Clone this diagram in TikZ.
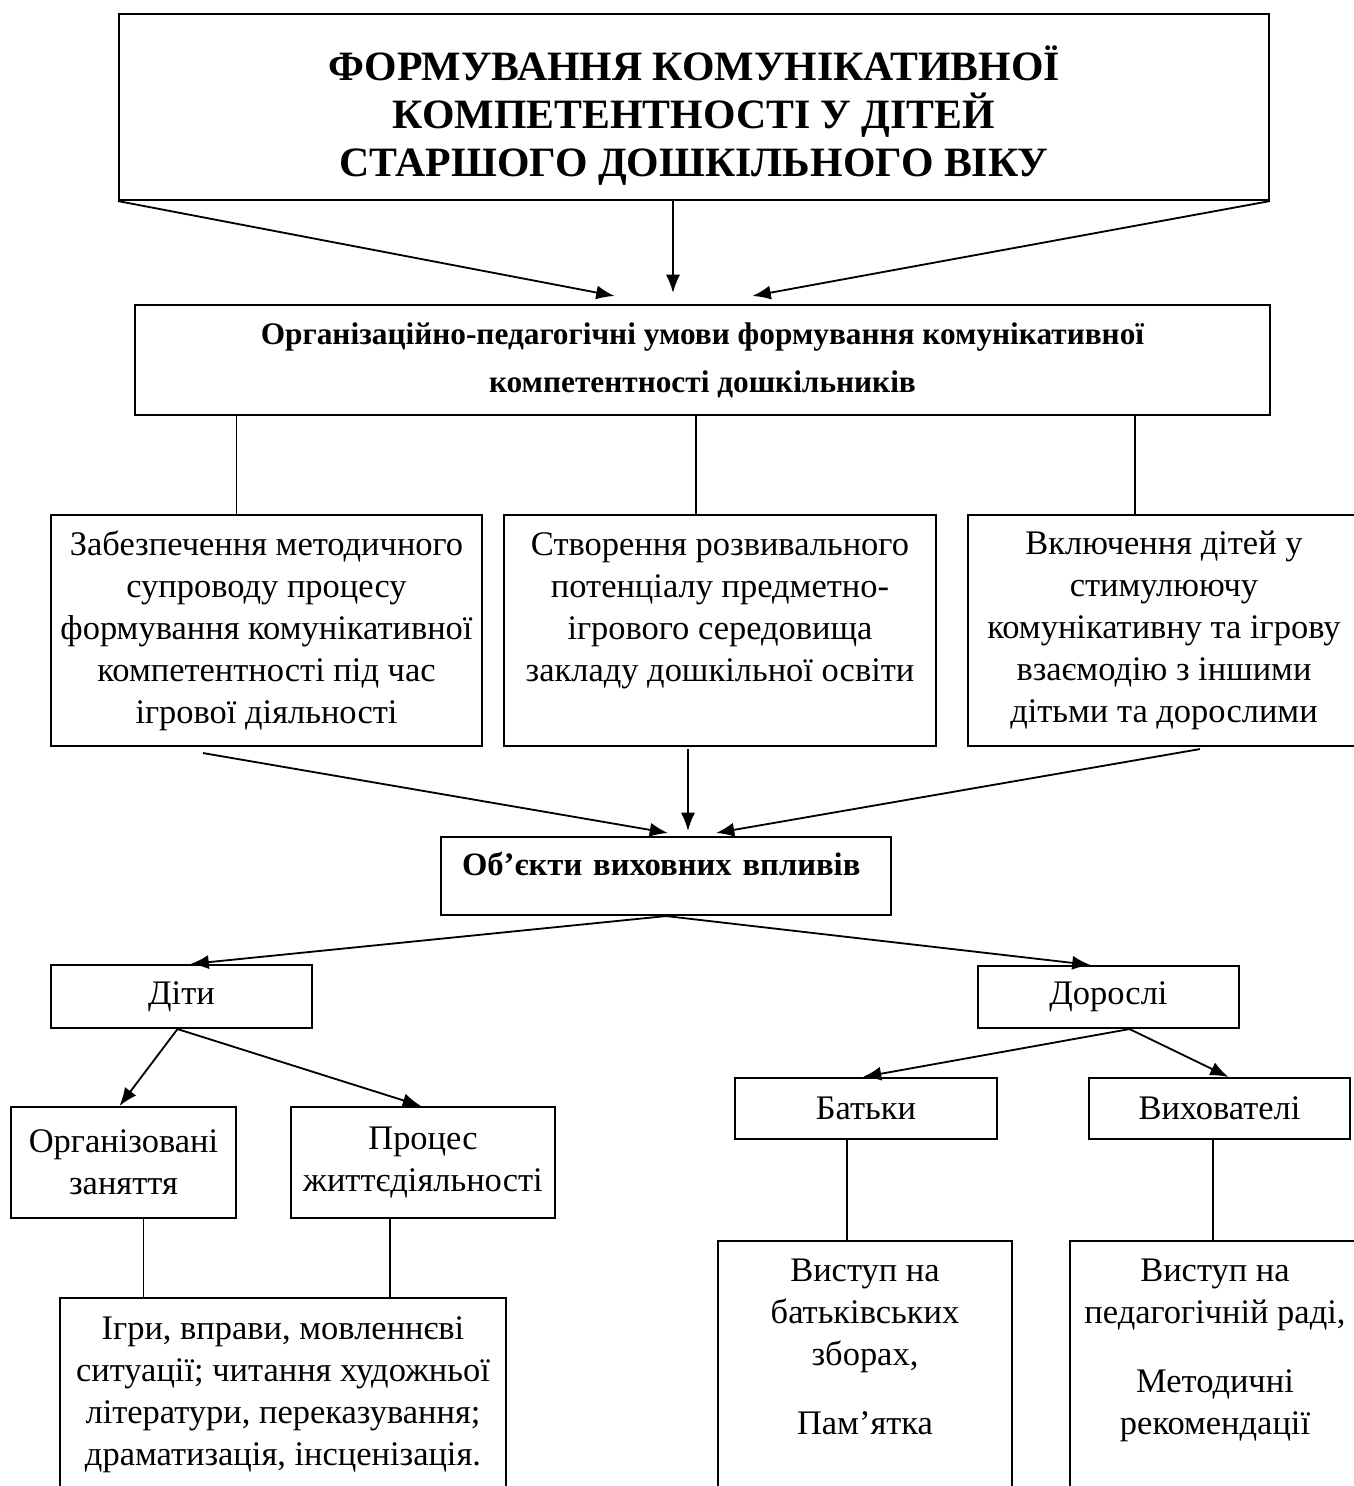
\documentclass[tikz,border=0pt]{standalone}
\usepackage{fontspec}
\setmainfont{Liberation Serif}
\usepackage{tikz}
\usetikzlibrary{arrows.meta,calc}

\newcommand{\pxu}{0.383pt}

\begin{document}
\begin{tikzpicture}[
  x=0.383pt, y=-0.383pt,
  >={Latex[length=7pt,width=5.4pt]},
  line width=.7pt,
  blockbox/.style={draw,line width=.8pt,inner sep=0pt,align=center,
                   font=\fontsize{13.2}{16.1}\selectfont},
  headbox/.style={blockbox,font=\bfseries\fontsize{16}{18.4}\selectfont},
  topbox/.style={blockbox,anchor=north,inner ysep=7pt,text depth=40pt}
]
 \useasboundingbox (0,0) rectangle (1354,1486);
 \clip (0,0) rectangle (1354,1486);

 % main title and conditions
 \node[headbox,minimum width=1150*\pxu,minimum height=186*\pxu,
       text height=53.6pt,text depth=0pt] (title) at (694,107)
   {ФОРМУВАННЯ КОМУНІКАТИВНОЇ\\КОМПЕТЕНТНОСТІ У ДІТЕЙ\\СТАРШОГО ДОШКІЛЬНОГО ВІКУ};
 \node[blockbox,font=\bfseries\fontsize{12}{18.4}\selectfont,
       minimum width=1135*\pxu,minimum height=110*\pxu] (cond) at (702.5,360)
   {Організаційно-педагогічні умови формування комунікативної\\компетентності дошкільників};

 \node[blockbox,minimum width=431*\pxu,minimum height=231*\pxu] (meth) at (266.5,630.5)
   {Забезпечення методичного\\супроводу процесу\\формування комунікативної\\компетентності під час\\ігрової діяльності};
 \node[blockbox,minimum width=432*\pxu,minimum height=231*\pxu,
       text height=42pt,text depth=2.6pt] (envir) at (720,630.5)
   {Створення розвивального\\потенціалу предметно-\\ігрового середовища\\закладу дошкільної освіти};
 \node[blockbox,minimum width=392*\pxu,minimum height=231*\pxu] (inter) at (1164,630.5)
   {Включення дітей у\\стимулюючу\\комунікативну та ігрову\\взаємодію з іншими\\дітьми та дорослими};

 \node[blockbox,font=\bfseries\fontsize{12.5}{16.1}\selectfont,align=left,
       inner xsep=21*\pxu,text width=408*\pxu,minimum height=78*\pxu,
       text height=10pt,text depth=10.7pt] (obj) at (666,876)
   {Об’єкти виховних впливів};

 \node[blockbox,minimum width=261*\pxu,minimum height=63*\pxu] (kids) at (181.5,996.5) {Діти};
 \node[blockbox,minimum width=261*\pxu,minimum height=62*\pxu] (adults) at (1108.5,997) {Дорослі};

 \node[blockbox,minimum width=225*\pxu,minimum height=111*\pxu] (org) at (123.5,1162.5)
   {Організовані\\заняття};
 \node[blockbox,minimum width=264*\pxu,minimum height=111*\pxu] (proc) at (423,1162.5)
   {Процес\\життєдіяльності};
 \node[topbox,minimum width=446*\pxu] (act) at (283,1297)
   {Ігри, вправи, мовленнєві\\ситуації; читання художньої\\літератури, переказування;\\драматизація, інсценізація.};

 \node[blockbox,minimum width=262*\pxu,minimum height=61*\pxu] (par) at (866,1108.5) {Батьки};
 \node[blockbox,minimum width=261*\pxu,minimum height=61*\pxu] (edu) at (1219.5,1108.5) {Вихователі};
 \node[topbox,minimum width=294*\pxu] (meetP) at (865,1240)
   {Виступ на\\батьківських\\зборах,\\[10.3pt]Пам’ятка};
 \node[topbox,minimum width=290*\pxu] (meetE) at (1215,1240)
   {Виступ на\\педагогічній раді,\\[10.3pt]Методичні\\рекомендації};

 % arrows from the title
 \draw[->] (title.south west) -- ($(cond.north)+(-88,-8)$);
 \draw[->] ($(title.south)+(-21,0)$) -- ($(cond.north)+(-29.5,-11)$);
 \draw[->] (title.south east) -- ($(cond.north)+(50,-8)$);

 % plain lines down to the three conditions
 \coordinate (cm) at ($(meth.north)+(-30,0)$);
 \coordinate (ce) at ($(envir.north)+(-24,0)$);
 \coordinate (ci) at ($(inter.north)+(-29,0)$);
 \draw (cm) -- (cm |- cond.south);
 \draw (ce) -- (ce |- cond.south);
 \draw (ci) -- (ci |- cond.south);

 % arrows to the objects
 \draw[->] ($(meth.south)+(-63.5,6)$) -- ($(obj.north)+(2,-3)$);
 \draw[->] ($(envir.south)+(-32,2)$) -- ($(obj.north)+(22,-5)$);
 \draw[->] ($(inter.south)+(36,2)$) -- ($(obj.north)+(50,-3)$);

 \draw[->] (obj.south) -- ($(kids.north)+(9,0)$);
 \draw[->] (obj.south) -- ($(adults.north)+(-18,0)$);

 % children
 \draw[->] ($(kids.south)+(-4,0)$) -- ($(org.north)+(-4,0)$);
 \draw[->] ($(kids.south)+(-4,0)$) -- ($(proc.north)+(-2,0)$);
 \coordinate (co) at ($(org.south)+(20,0)$);
 \coordinate (cp) at ($(proc.south)+(-33,0)$);
 \draw (co) -- (co |- act.north);
 \draw (cp) -- (cp |- act.north);

 % adults
 \draw[->] ($(adults.south)+(21,0)$) -- ($(par.north)+(-3,0)$);
 \draw[->] ($(adults.south)+(21,0)$) -- ($(edu.north)+(9,0)$);
 \coordinate (cb) at ($(par.south)+(-19,0)$);
 \coordinate (cv) at ($(edu.south)+(-6.5,0)$);
 \draw (cb) -- (cb |- meetP.north);
 \draw (cv) -- (cv |- meetE.north);
\end{tikzpicture}
\end{document}
